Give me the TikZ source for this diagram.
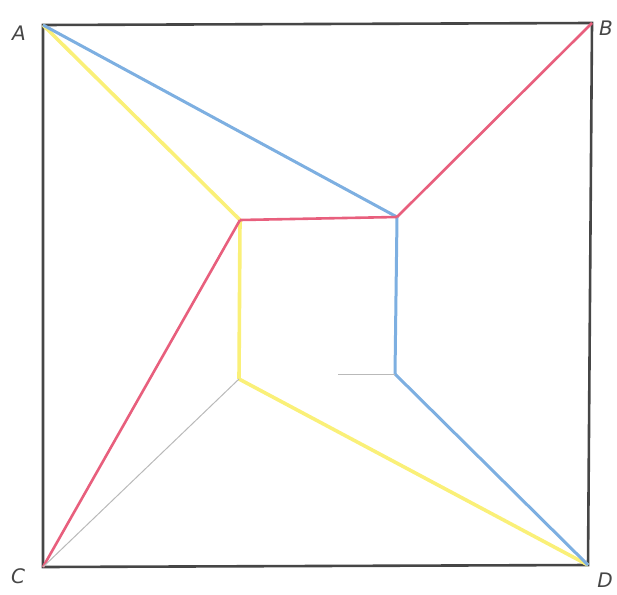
\documentclass[tikz,border=0pt]{standalone}
\usepackage{fontspec}
\setmainfont{DejaVu Sans}
\definecolor{pblue}{RGB}{125,175,225}
\definecolor{pred}{RGB}{232,95,125}
\definecolor{pyellow}{RGB}{250,240,120}
\definecolor{pgray}{RGB}{70,70,70}
\definecolor{plight}{RGB}{185,185,185}
\tikzset{
  frame/.style={draw=pgray, line width=2.6pt},
  blueline/.style={draw=pblue, line width=3pt},
  redline/.style={draw=pred, line width=2.6pt},
  yelline/.style={draw=pyellow, line width=3.6pt},
  faint/.style={draw=plight, line width=1pt},
  lbl/.style={font=\fontsize{20}{20}\selectfont\itshape, text=pgray, inner sep=0pt}
}
\begin{document}
\begin{tikzpicture}[x=1pt,y=-1pt]
\useasboundingbox (0,0) rectangle (617,594);
\coordinate (A) at (43,25);
\coordinate (B) at (592,23);
\coordinate (C) at (43,567);
\coordinate (D) at (588,565);
\coordinate (p) at (240,220);
\coordinate (q) at (397,217);
\coordinate (r) at (395,374);
\coordinate (s) at (239,379);
\coordinate (t) at (338,374);
\draw[frame] (A) -- (B) -- (D) -- (C) -- cycle;
\draw[yelline] (A) -- (p);
\draw[yelline] (p) -- (s);
\draw[yelline] (s) -- (D);
\draw[blueline] (A) -- (q);
\draw[blueline] (q) -- (r);
\draw[blueline] (r) -- (D);
\draw[redline] (B) -- (q);
\draw[redline] (p) -- (q);
\draw[redline] (C) -- (p);
\draw[faint] (C) -- (s);
\draw[faint] (t) -- (r);
\node[lbl] (la) at (19,33) {A};
\node[lbl] (lb) at (606,28) {B};
\node[lbl] (lc) at (18,576) {C};
\node[lbl] (ld) at (605,580) {D};
\end{tikzpicture}
\end{document}
